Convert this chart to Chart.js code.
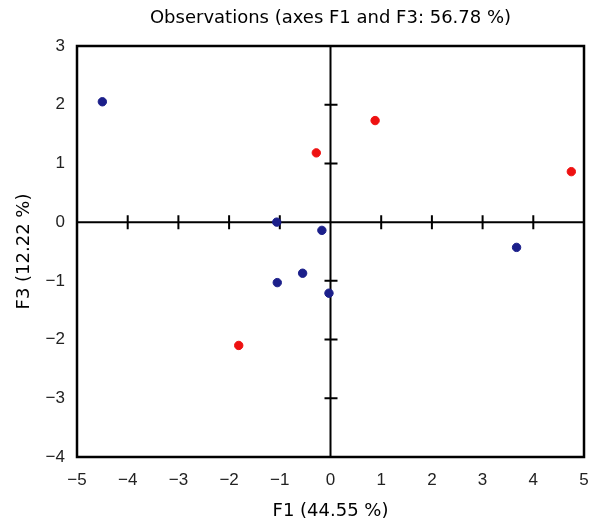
<!DOCTYPE html>
<html>
<head>
<meta charset="utf-8">
<script src="https://cdn.jsdelivr.net/npm/chart.js@4/dist/chart.umd.min.js"></script>
<style>
  html, body { margin: 0; padding: 0; background: #fff; }
  #wrap { width: 600px; height: 531px; }
</style>
</head>
<body>
<div id="wrap"><canvas id="obs" width="600" height="531"></canvas></div>
<script>
var blueF1 = [-4.50, -1.06, -0.17, -0.55, -1.05, -0.03, 3.67];
var blueF3 = [2.05, 0.00, -0.14, -0.87, -1.03, -1.21, -0.43];
var redF1 = [-0.28, 0.88, 4.75, -1.81];
var redF3 = [1.18, 1.73, 0.86, -2.10];

var xTicks = [-5, -4, -3, -2, -1, 0, 1, 2, 3, 4, 5];
var yTicks = [-4, -3, -2, -1, 0, 1, 2, 3];

var TICK_FONT = '"Liberation Sans", Arial, sans-serif';
var TITLE_FONT = '"DejaVu Sans", "Liberation Sans", sans-serif';

function pts(xs, ys) {
  return xs.map(function (x, i) { return { x: x, y: ys[i] }; });
}

function minus(v) {
  return String(v).replace("-", "\u2212");
}

// frame around the plot + the two zero axes with their tick marks
var crossAxes = {
  id: "crossAxes",
  beforeDatasetsDraw: function (chart) {
    var ctx = chart.ctx, a = chart.chartArea;
    var xs = chart.scales.x, ys = chart.scales.y;
    var x0 = xs.getPixelForValue(0), y0 = ys.getPixelForValue(0);
    ctx.save();
    ctx.strokeStyle = "#000";
    ctx.lineWidth = 2;
    ctx.beginPath();
    ctx.moveTo(a.left, y0); ctx.lineTo(a.right, y0);
    ctx.moveTo(x0, a.top); ctx.lineTo(x0, a.bottom);
    xTicks.forEach(function (t) {
      if (t === 0 || t === xTicks[0] || t === xTicks[xTicks.length - 1]) return;
      var px = xs.getPixelForValue(t);
      ctx.moveTo(px, y0 - 7); ctx.lineTo(px, y0 + 7);
    });
    yTicks.forEach(function (t) {
      if (t === 0 || t === yTicks[0] || t === yTicks[yTicks.length - 1]) return;
      var py = ys.getPixelForValue(t);
      ctx.moveTo(x0 - 6, py); ctx.lineTo(x0 + 7, py);
    });
    ctx.stroke();
    ctx.lineWidth = 2.5;
    ctx.strokeRect(a.left, a.top, a.right - a.left, a.bottom - a.top);
    ctx.restore();
  }
};

new Chart(document.getElementById("obs").getContext("2d"), {
  type: "scatter",
  data: {
    datasets: [
      {
        label: "active",
        data: pts(blueF1, blueF3),
        backgroundColor: "#1b1f8a",
        borderColor: "#1b1f8a",
        pointRadius: 4.2,
        pointHoverRadius: 4.2
      },
      {
        label: "supplementary",
        data: pts(redF1, redF3),
        backgroundColor: "#ee1111",
        borderColor: "#ee1111",
        pointRadius: 4.2,
        pointHoverRadius: 4.2
      }
    ]
  },
  options: {
    responsive: false,
    animation: false,
    layout: { padding: { left: 0, right: 16, top: 0, bottom: 0 } },
    plugins: {
      legend: { display: false },
      tooltip: { enabled: false },
      title: {
        display: true,
        fullSize: false,
        text: "Observations (axes F1 and F3: 56.78 %)",
        color: "#000",
        font: { family: TITLE_FONT, size: 18, weight: "normal" },
        padding: { top: 8, bottom: 16.4 }
      }
    },
    scales: {
      x: {
        type: "linear",
        min: xTicks[0],
        max: xTicks[xTicks.length - 1],
        afterBuildTicks: function (s) { s.ticks = xTicks.map(function (v) { return { value: v }; }); },
        grid: { display: false },
        border: { display: false },
        ticks: {
          color: "#222",
          padding: 5,
          font: { family: TICK_FONT, size: 17 },
          callback: function (v) { return minus(v); }
        },
        title: {
          display: true,
          text: "F1 (44.55 %)",
          color: "#000",
          padding: { top: 4, bottom: 9 },
          font: { family: TITLE_FONT, size: 18 }
        },
        afterFit: function (s) { s.height = 74; }
      },
      y: {
        type: "linear",
        min: yTicks[0],
        max: yTicks[yTicks.length - 1],
        afterBuildTicks: function (s) { s.ticks = yTicks.map(function (v) { return { value: v }; }); },
        grid: { display: false },
        border: { display: false },
        ticks: {
          color: "#222",
          padding: 4,
          font: { family: TICK_FONT, size: 17 },
          callback: function (v) { return minus(v); }
        },
        title: {
          display: true,
          text: "F3 (12.22 %)",
          color: "#000",
          padding: { top: 14, bottom: 4 },
          font: { family: TITLE_FONT, size: 18 }
        },
        afterFit: function (s) { s.width = 77; }
      }
    }
  },
  plugins: [crossAxes]
});
</script>
</body>
</html>
